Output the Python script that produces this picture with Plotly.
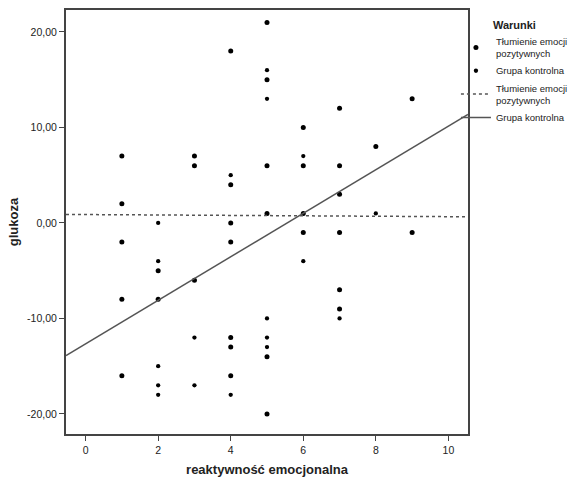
import plotly.graph_objects as go

# --- data ---
supp_x = [1, 1, 1, 1, 1, 2, 2, 3, 3, 3, 4, 4, 4, 4, 4, 4, 4, 5, 5, 5, 5, 5, 5,
          6, 6, 6, 6, 7, 7, 7, 7, 7, 7, 8, 9, 9]
supp_y = [7, 2, -2, -8, -16, -5, -8, 7, 6, -6, 18, 4, 0, -2, -12, -13, -16, 21, 15, 6, 1, -14, -20,
          10, 6, 1, -1, 12, 6, 3, -1, -7, -9, 8, 13, -1]
ctrl_x = [2, 2, 2, 2, 2, 3, 3, 4, 4, 5, 5, 5, 5, 5, 6, 6, 7, 8]
ctrl_y = [0, -4, -15, -17, -18, -12, -17, 5, -18, 16, 13, -10, -12, -13, 7, -4, -10, 1]

# fit lines (intercept, slope)
supp_fit = (0.88, -0.022)
ctrl_fit = (-12.66, 2.28)

x_ticks = [0, 2, 4, 6, 8, 10]
y_ticks = [-20, -10, 0, 10, 20]
y_tick_text = ["-20,00", "-10,00", "0,00", "10,00", "20,00"]

x_range = [-0.54, 10.54]
y_range = [-22.1, 22.3]

FONT = "Liberation Sans, Arial, sans-serif"

fig = go.Figure()
fig.add_trace(go.Scatter(x=supp_x, y=supp_y, mode="markers",
                         name="Tłumienie emocji<br>pozytywnych",
                         marker=dict(color="black", size=5)))
fig.add_trace(go.Scatter(x=ctrl_x, y=ctrl_y, mode="markers",
                         name="Grupa kontrolna",
                         marker=dict(color="black", size=4.3)))
lx = x_range
fig.add_trace(go.Scatter(x=lx, y=[supp_fit[0] + supp_fit[1] * v for v in lx], mode="lines",
                         name="Tłumienie emocji<br>pozytywnych",
                         line=dict(color="#555555", width=1.5, dash="dot")))
fig.add_trace(go.Scatter(x=lx, y=[ctrl_fit[0] + ctrl_fit[1] * v for v in lx], mode="lines",
                         name="Grupa kontrolna",
                         line=dict(color="#555555", width=1.5)))

fig.update_layout(
    width=570, height=482,
    margin=dict(l=66, r=102, t=10, b=48, autoexpand=False),
    paper_bgcolor="white", plot_bgcolor="white",
    font=dict(family=FONT, size=10, color="#222222"),
    showlegend=True,
    legend=dict(
        x=0.97, y=0.99, xanchor="left", yanchor="top",
        bgcolor="rgba(0,0,0,0)",
        font=dict(size=9.5, color="#222222"),
        title=dict(text="<b>Warunki</b>", side="top center", font=dict(size=11)),
        itemwidth=30, tracegroupgap=0,
    ),
)
fig.update_xaxes(
    range=x_range, tickvals=x_ticks, ticktext=[str(v) for v in x_ticks],
    showgrid=False, zeroline=False,
    showline=True, linecolor="#444444", linewidth=2, mirror=True,
    ticks="outside", ticklen=5, tickcolor="#444444",
    tickfont=dict(size=10.5),
    title=dict(text="<b>reaktywność emocjonalna</b>", font=dict(size=13), standoff=10),
)
fig.update_yaxes(
    range=y_range, tickvals=y_ticks, ticktext=y_tick_text,
    showgrid=False, zeroline=False,
    showline=True, linecolor="#444444", linewidth=2, mirror=True,
    ticks="outside", ticklen=5, tickcolor="#444444",
    tickfont=dict(size=10.5),
    title=dict(text="<b>glukoza</b>", font=dict(size=13), standoff=6),
)

fig.write_html("out.html")
